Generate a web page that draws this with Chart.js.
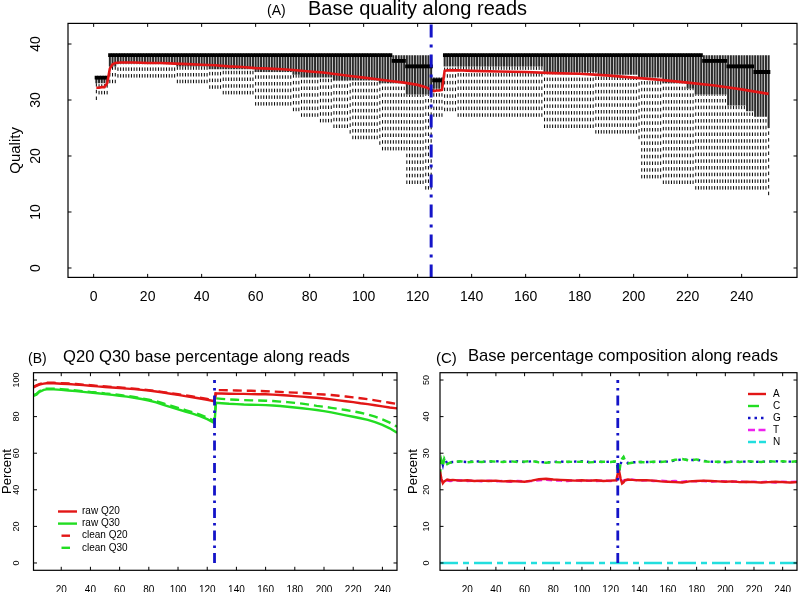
<!DOCTYPE html>
<html><head><meta charset="utf-8">
<script src="https://cdn.jsdelivr.net/npm/chart.js@4.4.1/dist/chart.umd.min.js"></script>
<style>
html,body{margin:0;padding:0;background:#fff;}
body{width:798px;height:592px;position:relative;overflow:hidden;font-family:'Liberation Sans',Arial,Helvetica,sans-serif;}
.cv{position:absolute;}
.t{position:absolute;white-space:pre;line-height:1;color:#000;}
</style></head><body>
<div class="cv" style="left:0;top:0;width:798px;height:310px"><canvas id="cA"></canvas></div>
<div class="cv" style="left:0;top:330px;width:399px;height:262px"><canvas id="cB"></canvas></div>
<div class="cv" style="left:399px;top:330px;width:399px;height:262px"><canvas id="cC"></canvas></div>
<span class="t" style="left:267px;top:3px;font-size:14px">(A)</span>
<span class="t" style="left:308px;top:-2px;font-size:20px">Base quality along reads</span>
<span class="t" style="left:28px;top:351px;font-size:14px">(B)</span>
<span class="t" style="left:63px;top:349px;font-size:16.6px">Q20 Q30 base percentage along reads</span>
<span class="t" style="left:436px;top:349.5px;font-size:15px">(C)</span>
<span class="t" style="left:468px;top:348px;font-size:16.6px">Base percentage composition along reads</span>
<script>
const FONT = "'Liberation Sans', Arial, Helvetica, sans-serif";
const readLength = 250;
const splitPos = 125;

// ---------------- Panel A: quality boxplots ----------------
const aXTicks = [0,20,40,60,80,100,120,140,160,180,200,220,240];
const aYTicks = [0,10,20,30,40];
// runs of positions sharing the same box statistics (start position of each run)
const segStart = [1,2,6,9,31,43,48,60,74,77,84,89,95,96,106,107,111,116,123,126,130,135,167,169,186,187,202,203,211,220,223,226,235,242,245,250];
const segQ3    = [34,34,38,38,38,38,38,38,38,38,38,38,38,38,38,38,38,38,38,34,38,38,38,38,38,38,38,38,38,38,38,38,38,38,38,38];
const segMed   = [34,34,38,38,38,38,38,38,38,38,38,38,38,38,38,38,37,36,36,33.5,38,38,38,38,38,38,38,38,38,38,38,37,36,36,35,35];
const segQ1    = [33,33,36,36.5,36,35.5,35.5,35,34.5,34,34,33.5,33.5,33.5,33,33,33,31,31,32,36,36,35,35,35,34.5,34,34,33,32,31,31,29,28,27,25];
const segLow   = [30,31,33,34,33,32,31,29,28,27,26,25,24,23,22,21,21,15,14,27,28,27,25,25,24,24,23,16,15,15,14,14,14,14,14,13];
const meanPos = [1,2,3,4,5,6,7,8,10,15,20,25,30,35,40,45,50,55,60,65,70,75,80,85,90,95,100,105,110,115,120,123,125,126,127,128,129,130,131,135,140,150,160,170,180,190,200,210,220,230,240,250];
const meanVal = [32.2,32.2,32.3,32.3,33.0,35.6,36.4,36.6,36.7,36.7,36.6,36.6,36.5,36.4,36.3,36.2,36.0,35.9,35.7,35.6,35.5,35.3,35.1,34.9,34.6,34.3,34.0,33.7,33.4,33.1,32.7,32.3,31.8,31.6,31.7,31.7,31.8,35.2,35.3,35.3,35.2,35.1,35.0,34.8,34.7,34.4,34.0,33.6,33.1,32.6,31.9,31.1];

// ---------------- Panel B: Q20 / Q30 ----------------
const bXTicks = [20,40,60,80,100,120,140,160,180,200,220,240];
const bYTicks = [0,20,40,60,80,100];
const bPos = [1,3,5,8,10,15,20,25,30,35,40,45,50,55,60,65,70,75,80,85,90,95,100,105,110,115,120,125,
              126,130,135,140,145,150,155,160,165,170,175,180,185,190,195,200,205,210,215,220,225,230,235,240,245,250];
const rawQ20 = [96.0,96.8,97.5,98.0,98.2,98.2,98.0,97.8,97.5,97.2,96.9,96.5,96.2,95.9,95.6,95.3,95.0,94.6,94.2,93.7,93.1,92.5,91.9,91.2,90.6,89.9,89.2,88.4,
                92.7,92.6,92.5,92.4,92.4,92.3,92.2,92.2,92.0,91.8,91.5,91.2,90.9,90.6,90.3,89.9,89.4,88.9,88.4,87.9,87.3,86.8,86.2,85.6,85.0,84.5];
const rawQ30 = [91.4,92.0,93.5,94.6,94.9,94.9,94.6,94.3,93.9,93.5,93.1,92.8,92.3,91.9,91.4,90.9,90.3,89.6,88.8,87.8,86.4,85.2,84.0,82.8,81.6,80.3,78.6,76.5,
                87.6,87.3,87.0,86.8,86.6,86.5,86.4,86.3,86.1,85.8,85.4,85.0,84.6,84.1,83.6,83.0,82.3,81.5,80.7,79.9,79.1,78.2,77.0,75.5,73.6,71.2];
const cleanQ20 = [96.3,97.1,97.8,98.3,98.5,98.5,98.3,98.1,97.8,97.5,97.2,96.8,96.5,96.2,95.9,95.6,95.3,94.9,94.5,94.0,93.4,92.8,92.2,91.6,91.0,90.3,89.6,88.9,
                  94.5,94.5,94.4,94.3,94.2,94.1,94.0,93.9,93.7,93.5,93.3,93.1,92.9,92.6,92.3,92.1,91.8,91.4,91.0,90.5,90.0,89.5,88.9,88.2,87.6,86.9];
const cleanQ30 = [91.8,92.4,93.9,95.0,95.3,95.3,95.0,94.7,94.3,93.9,93.5,93.2,92.7,92.3,91.8,91.3,90.7,90.0,89.3,88.4,87.2,86.0,84.8,83.6,82.4,81.1,79.5,77.6,
                  90.0,89.7,89.4,89.2,89.0,88.9,88.8,88.7,88.5,88.2,87.9,87.5,87.1,86.5,85.9,85.4,84.8,84.2,83.6,82.9,82.1,81.2,80.0,78.5,76.7,74.5];

// ---------------- Panel C: base composition ----------------
const cXTicks = [20,40,60,80,100,120,140,160,180,200,220,240];
const cYTicks = [0,10,20,30,40,50];
const cPos = [1,2,3,4,6,8,10,15,20,25,30,35,40,45,50,55,60,65,70,75,80,85,90,95,100,105,110,115,120,124,125,126,127,128,129,130,132,135,140,145,150,155,160,165,170,175,180,185,190,195,200,205,210,215,220,225,230,235,240,245,250];
const pctA = [25.0,23.0,21.8,22.3,22.8,22.6,22.7,22.5,22.6,22.4,22.5,22.4,22.5,22.3,22.4,22.3,22.2,22.5,22.9,23.0,22.8,22.7,22.6,22.5,22.6,22.5,22.6,22.4,22.5,22.6,24.5,25.0,23.0,21.7,22.0,22.6,22.8,22.7,22.6,22.6,22.5,22.3,22.2,22.1,22.0,22.3,22.4,22.5,22.4,22.3,22.2,22.3,22.1,22.2,22.1,22.0,22.1,22.2,22.1,22.0,22.1];
const pctC = [24.0,28.0,26.5,28.5,27.0,27.4,27.6,27.8,27.5,27.7,27.6,27.8,27.7,27.6,27.8,27.6,27.7,27.9,27.5,27.4,27.6,27.5,27.7,27.6,27.7,27.5,27.6,27.7,27.6,27.8,25.5,24.5,27.5,28.5,29.0,28.0,27.2,27.4,27.6,27.5,27.7,27.6,27.8,28.2,28.4,28.0,28.3,27.8,27.6,27.7,27.5,27.7,27.6,27.8,27.7,27.6,27.8,27.7,27.8,27.6,27.8];
const pctG = [27.5,28.3,26.8,28.7,27.2,27.5,27.6,27.7,27.6,27.8,27.7,27.7,27.8,27.7,27.7,27.8,27.6,27.8,27.6,27.5,27.6,27.7,27.6,27.7,27.8,27.6,27.7,27.6,27.7,27.6,26.0,25.2,27.0,28.3,28.8,28.2,27.3,27.5,27.6,27.6,27.6,27.7,27.7,28.0,28.3,28.1,28.2,27.9,27.7,27.6,27.6,27.7,27.7,27.7,27.6,27.7,27.7,27.8,27.7,27.7,27.7];
const pctT = [23.5,22.5,22.2,22.6,22.5,22.4,22.5,22.6,22.4,22.5,22.3,22.5,22.3,22.4,22.2,22.4,22.3,22.4,22.6,22.7,22.6,22.5,22.4,22.6,22.4,22.5,22.4,22.5,22.4,22.5,23.0,23.5,22.8,22.3,22.5,22.7,22.6,22.8,22.5,22.6,22.4,22.5,22.3,22.4,22.2,22.4,22.3,22.4,22.2,22.4,22.3,22.2,22.3,22.1,22.2,22.1,22.2,22.0,22.2,22.1,22.2];
const nPos = [1,250];
const pctN = [0,0];

// ---------------- helpers ----------------
const pts = (xs, ys) => xs.map((x, i) => ({x, y: ys[i]}));
function runEnd(s) { return s + 1 < segStart.length ? segStart[s + 1] - 1 : readLength; }
// one vertical segment per position (from a -> b), separated by gaps
function verticalRuns(fa, fb) {
  const out = [];
  for (let s = 0; s < segStart.length; s++)
    for (let p = segStart[s]; p <= runEnd(s); p++)
      out.push({x: p, y: fa(s)}, {x: p, y: fb(s)}, {x: p, y: null});
  return out;
}
function floatRuns(fn) {
  const out = [];
  for (let s = 0; s < segStart.length; s++)
    for (let p = segStart[s]; p <= runEnd(s); p++) out.push({x: p, y: fn(s)});
  return out;
}
function fixTicks(list) { return s => { s.ticks = list.map(v => ({value: v})); }; }
function fitW(w) { return s => { s.width = w; s.paddingTop = 0; s.paddingBottom = 0; s.paddingLeft = 0; s.paddingRight = 0; }; }
function fitH(h) { return s => { s.height = h; s.paddingTop = 0; s.paddingBottom = 0; s.paddingLeft = 0; s.paddingRight = 0; }; }

const framePlugin = {
  id: 'frame',
  afterDraw(chart) {
    const {ctx, chartArea: a, scales} = chart;
    ctx.save();
    ctx.strokeStyle = '#000'; ctx.lineWidth = 1.2; ctx.setLineDash([]);
    ctx.strokeRect(a.left, a.top, a.right - a.left, a.bottom - a.top);
    const tl = 3.5;
    ctx.lineWidth = 1;
    ctx.beginPath();
    scales.x.ticks.forEach(t => {
      const px = scales.x.getPixelForValue(t.value);
      ctx.moveTo(px, a.bottom); ctx.lineTo(px, a.bottom - tl);
      ctx.moveTo(px, a.top); ctx.lineTo(px, a.top + tl);
    });
    scales.y.ticks.forEach(t => {
      const py = scales.y.getPixelForValue(t.value);
      ctx.moveTo(a.left, py); ctx.lineTo(a.left + tl, py);
      ctx.moveTo(a.right, py); ctx.lineTo(a.right - tl, py);
    });
    ctx.stroke();
    ctx.restore();
  }
};
const legendPlugin = {
  id: 'inLegend',
  afterDraw(chart, args, o) {
    if (!o || !o.items) return;
    const ctx = chart.ctx;
    ctx.save();
    ctx.font = o.font; ctx.textBaseline = 'middle'; ctx.textAlign = 'left';
    o.items.forEach((it, i) => {
      const y = o.y0 + i * o.dy;
      ctx.beginPath();
      ctx.setLineDash(it.dash || []); ctx.lineDashOffset = it.offset || 0;
      ctx.strokeStyle = it.color; ctx.lineWidth = it.width;
      ctx.moveTo(o.x0, y); ctx.lineTo(o.x1, y); ctx.stroke();
      ctx.setLineDash([]);
      ctx.fillStyle = '#000';
      ctx.fillText(it.label, o.xt, y);
    });
    ctx.restore();
  }
};

const RED = '#e21616', GREEN = '#22dd22', BLUE = '#1414c8', MAG = '#ee22ee', CYAN = '#22dede';

// ---------------- Chart A ----------------
const yMinA = -1.68, yMaxA = 43.68;
new Chart(document.getElementById('cA'), {
  type: 'bar',
  data: { datasets: [
    {type:'line', label:'split', data:[{x:splitPos,y:yMinA},{x:splitPos,y:yMaxA}], borderColor:BLUE, borderWidth:3, borderDash:[13,7,3,7], pointRadius:0, order:0},
    {type:'line', label:'mean', data: pts(meanPos, meanVal), borderColor:RED, borderWidth:2.6, pointRadius:0, order:1},
    {type:'bar', label:'median', data: floatRuns(s => [segMed[s]-0.28, segMed[s]+0.28]), backgroundColor:'#000', barPercentage:1, categoryPercentage:1, grouped:false, order:2},
    {type:'line', label:'box', data: verticalRuns(s => segQ1[s], s => segQ3[s]), borderColor:'#2a2a2a', borderWidth:2, pointRadius:0, spanGaps:false, order:3},
    {type:'line', label:'whisker', data: verticalRuns(s => segLow[s], s => segQ1[s]), borderColor:'#000', borderWidth:1, borderDash:[3.5,3.2], pointRadius:0, spanGaps:false, order:4}
  ]},
  options: {
    responsive:true, maintainAspectRatio:false, animation:false,
    layout:{padding:{top:23.4, right:1, bottom:0, left:0}},
    plugins:{legend:{display:false}, tooltip:{enabled:false}},
    scales:{
      x:{type:'linear', min:-9.5, max:260.5, offset:false, grid:{display:false}, border:{display:false},
         afterBuildTicks: fixTicks(aXTicks), afterFit: fitH(32.6),
         ticks:{font:{size:14, family:FONT}, color:'#000', padding:3, maxRotation:0, autoSkip:false}},
      y:{type:'linear', min:yMinA, max:yMaxA, grid:{display:false}, border:{display:false},
         afterBuildTicks: fixTicks(aYTicks), afterFit: fitW(68),
         ticks:{font:{size:14, family:FONT}, color:'#000', padding:16, minRotation:90, maxRotation:90, crossAlign:'center', autoSkip:false},
         title:{display:true, text:'Quality', font:{size:15, family:FONT}, color:'#000', padding:{top:7, bottom:0}}}
    }
  },
  plugins:[framePlugin]
});

// ---------------- Chart B ----------------
new Chart(document.getElementById('cB'), {
  type: 'line',
  data: { datasets: [
    {label:'split', data:[{x:splitPos,y:0},{x:splitPos,y:100}], borderColor:BLUE, borderWidth:2.8, borderDash:[10,5,2.5,5], pointRadius:0},
    {label:'raw Q20', data: pts(bPos, rawQ20), borderColor:RED, borderWidth:2.4, pointRadius:0},
    {label:'raw Q30', data: pts(bPos, rawQ30), borderColor:GREEN, borderWidth:2.4, pointRadius:0},
    {label:'clean Q20', data: pts(bPos, cleanQ20), borderColor:RED, borderWidth:2.4, borderDash:[9,5], pointRadius:0},
    {label:'clean Q30', data: pts(bPos, cleanQ30), borderColor:GREEN, borderWidth:2.4, borderDash:[9,5], pointRadius:0}
  ]},
  options: {
    responsive:true, maintainAspectRatio:false, animation:false,
    layout:{padding:{top:42.7, right:2, bottom:0, left:0}},
    plugins:{legend:{display:false}, tooltip:{enabled:false},
      inLegend:{font:"10px " + FONT, x0:58, x1:77, xt:82, y0:181.5, dy:12.1, items:[
        {label:'raw Q20', color:RED, width:2.4},
        {label:'raw Q30', color:GREEN, width:2.4},
        {label:'clean Q20', color:RED, width:2.4, dash:[8.5,20], offset:-3.5},
        {label:'clean Q30', color:GREEN, width:2.4, dash:[8.5,20], offset:-3.5}
      ]}},
    scales:{
      x:{type:'linear', min:1, max:readLength, offset:false, grid:{display:false}, border:{display:false},
         afterBuildTicks: fixTicks(bXTicks), afterFit: fitH(21.7),
         ticks:{font:{size:10, family:FONT}, color:'#000', padding:5.5, maxRotation:0, autoSkip:false}},
      y:{type:'linear', min:-4, max:104, grid:{display:false}, border:{display:false},
         afterBuildTicks: fixTicks(bYTicks), afterFit: fitW(33.5),
         ticks:{font:{size:9, family:FONT}, color:'#000', padding:1.5, minRotation:90, maxRotation:90, crossAlign:'center', autoSkip:false},
         title:{display:true, text:'Percent', font:{size:13, family:FONT}, color:'#000', padding:{top:0, bottom:0}}}
    }
  },
  plugins:[framePlugin, legendPlugin]
});

// ---------------- Chart C ----------------
new Chart(document.getElementById('cC'), {
  type: 'line',
  data: { datasets: [
    {label:'split', data:[{x:splitPos,y:0},{x:splitPos,y:50}], borderColor:BLUE, borderWidth:2.8, borderDash:[10,5,2.5,5], pointRadius:0},
    {label:'A', data: pts(cPos, pctA), borderColor:RED, borderWidth:2.4, pointRadius:0},
    {label:'T', data: pts(cPos, pctT), borderColor:MAG, borderWidth:2.4, borderDash:[6,4], pointRadius:0},
    {label:'C', data: pts(cPos, pctC), borderColor:GREEN, borderWidth:2.4, borderDash:[6,5], pointRadius:0},
    {label:'G', data: pts(cPos, pctG), borderColor:BLUE, borderWidth:2.4, borderDash:[2.5,4], pointRadius:0},
    {label:'N', data: pts(nPos, pctN), borderColor:CYAN, borderWidth:2.4, borderDash:[18,5,6,5], pointRadius:0}
  ]},
  options: {
    responsive:true, maintainAspectRatio:false, animation:false,
    layout:{padding:{top:42.7, right:1, bottom:0, left:0}},
    plugins:{legend:{display:false}, tooltip:{enabled:false},
      inLegend:{font:"10px " + FONT, x0:349, x1:367, xt:374, y0:64, dy:12, items:[
        {label:'A', color:RED, width:2.4},
        {label:'C', color:GREEN, width:2.4, dash:[11,20]},
        {label:'G', color:BLUE, width:2.4, dash:[2.5,4]},
        {label:'T', color:MAG, width:2.4, dash:[7,3.5]},
        {label:'N', color:CYAN, width:2.4, dash:[8,3]}
      ]}},
    scales:{
      x:{type:'linear', min:1, max:readLength, offset:false, grid:{display:false}, border:{display:false},
         afterBuildTicks: fixTicks(cXTicks), afterFit: fitH(21.7),
         ticks:{font:{size:10, family:FONT}, color:'#000', padding:5.5, maxRotation:0, autoSkip:false}},
      y:{type:'linear', min:-2, max:52, grid:{display:false}, border:{display:false},
         afterBuildTicks: fixTicks(cYTicks), afterFit: fitW(41),
         ticks:{font:{size:9, family:FONT}, color:'#000', padding:0.7, minRotation:90, maxRotation:90, crossAlign:'center', autoSkip:false},
         title:{display:true, text:'Percent', font:{size:13, family:FONT}, color:'#000', padding:{top:6.2, bottom:0}}}
    }
  },
  plugins:[framePlugin, legendPlugin]
});
</script>
</body></html>
